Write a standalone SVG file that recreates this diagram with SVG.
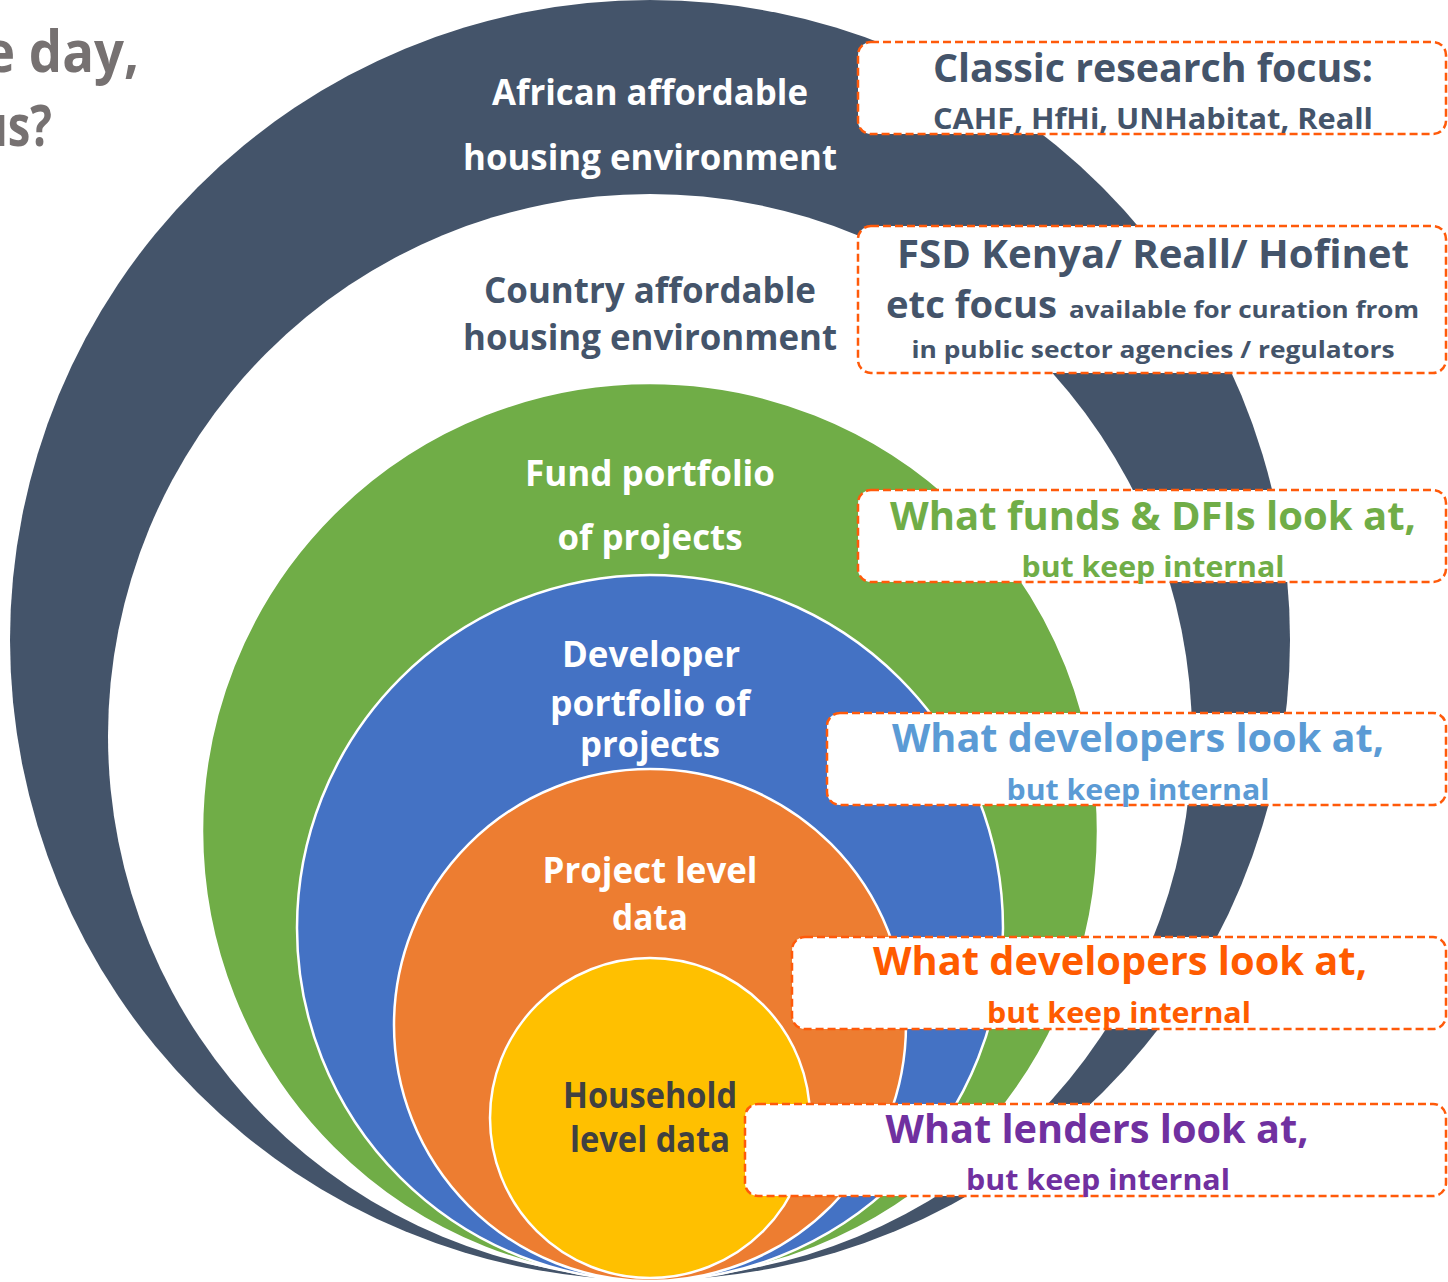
<svg xmlns="http://www.w3.org/2000/svg" width="1448" height="1282" viewBox="0 0 1448 1282">
  <style>
    text { font-family: "Open Sans", "Liberation Sans", sans-serif; font-weight: bold; }
    .ring { stroke: #FFFFFF; stroke-width: 2.5; }
    .lbl { font-size: 36px; text-anchor: middle; }
    .w { fill: #FFFFFF; }
    .slate { fill: #44546A; }
    .box { fill: #FFFFFF; stroke: #FF5A0A; stroke-width: 2.5; stroke-dasharray: 8 4; }
    .big { font-size: 40px; text-anchor: middle; }
    .sub { font-size: 28px; text-anchor: middle; }
    .title { font-size: 58px; fill: #767171; }
  </style>

  <rect width="1448" height="1282" fill="#FFFFFF"/>

  <!-- heading fragment running off the left edge -->
  <g id="heading">
    <text class="title" x="-16" y="72" textLength="155" lengthAdjust="spacingAndGlyphs">e day,</text>
    <text class="title" x="-22" y="146" textLength="74" lengthAdjust="spacingAndGlyphs">us?</text>
  </g>

  <!-- nested rings, all touching at the bottom -->
  <g id="ring-africa">
    <circle cx="650" cy="640" r="640" fill="#44546A"/>
    <text class="lbl w" x="650" y="105" textLength="316" lengthAdjust="spacingAndGlyphs">African affordable</text>
    <text class="lbl w" x="650" y="170" textLength="374" lengthAdjust="spacingAndGlyphs">housing environment</text>
  </g>
  <g id="ring-country">
    <circle cx="650" cy="736" r="542" fill="#FFFFFF"/>
    <text class="lbl slate" x="650" y="303" textLength="332" lengthAdjust="spacingAndGlyphs">Country affordable</text>
    <text class="lbl slate" x="650" y="350" textLength="374" lengthAdjust="spacingAndGlyphs">housing environment</text>
  </g>
  <g id="ring-fund">
    <circle class="ring" cx="650" cy="831" r="448" fill="#70AD47"/>
    <text class="lbl w" x="650" y="486" textLength="250" lengthAdjust="spacingAndGlyphs">Fund portfolio</text>
    <text class="lbl w" x="650" y="550" textLength="185" lengthAdjust="spacingAndGlyphs">of projects</text>
  </g>
  <g id="ring-developer">
    <circle class="ring" cx="650" cy="928" r="353" fill="#4472C4"/>
    <text class="lbl w" x="651" y="667" textLength="178" lengthAdjust="spacingAndGlyphs">Developer</text>
    <text class="lbl w" x="650" y="716" textLength="200" lengthAdjust="spacingAndGlyphs">portfolio of</text>
    <text class="lbl w" x="650" y="757" textLength="140" lengthAdjust="spacingAndGlyphs">projects</text>
  </g>
  <g id="ring-project">
    <circle class="ring" cx="650" cy="1025" r="256" fill="#ED7D31"/>
    <text class="lbl w" x="650" y="883" textLength="215" lengthAdjust="spacingAndGlyphs">Project level</text>
    <text class="lbl w" x="650" y="930" textLength="76" lengthAdjust="spacingAndGlyphs">data</text>
  </g>
  <g id="ring-household">
    <circle class="ring" cx="650" cy="1118" r="160" fill="#FFC000"/>
    <text class="lbl" x="650" y="1108" fill="#404040" textLength="174" lengthAdjust="spacingAndGlyphs">Household</text>
    <text class="lbl" x="650" y="1152" fill="#404040" textLength="160" lengthAdjust="spacingAndGlyphs">level data</text>
  </g>

  <!-- dashed callouts on the right -->
  <g id="callout-classic">
    <rect class="box" x="858" y="42" width="588" height="92" rx="13"/>
    <text class="big slate" x="1153" y="82" textLength="440" lengthAdjust="spacingAndGlyphs">Classic research focus:</text>
    <text class="sub slate" x="1153" y="129" textLength="440" lengthAdjust="spacingAndGlyphs">CAHF, HfHi, UNHabitat, Reall</text>
  </g>
  <g id="callout-country">
    <rect class="box" x="858" y="226" width="588" height="147" rx="13"/>
    <text class="big slate" x="1153" y="268" textLength="512" lengthAdjust="spacingAndGlyphs">FSD Kenya/ Reall/ Hofinet</text>
    <text class="slate" x="886" y="318" font-size="38" textLength="171" lengthAdjust="spacingAndGlyphs">etc focus</text>
    <text class="slate" x="1069" y="318" font-size="24" textLength="350" lengthAdjust="spacingAndGlyphs">available for curation from</text>
    <text class="slate" x="1153" y="358" font-size="24" text-anchor="middle" textLength="483" lengthAdjust="spacingAndGlyphs">in public sector agencies / regulators</text>
  </g>
  <g id="callout-funds">
    <rect class="box" x="858" y="490" width="588" height="92" rx="13"/>
    <text class="big" x="1153" y="530" fill="#70AD47" textLength="526" lengthAdjust="spacingAndGlyphs">What funds &amp; DFIs look at,</text>
    <text class="sub" x="1153" y="577" fill="#70AD47" textLength="263" lengthAdjust="spacingAndGlyphs">but keep internal</text>
  </g>
  <g id="callout-developers">
    <rect class="box" x="827" y="713" width="619" height="92" rx="13"/>
    <text class="big" x="1138" y="752" fill="#5B9BD5" textLength="492" lengthAdjust="spacingAndGlyphs">What developers look at,</text>
    <text class="sub" x="1138" y="800" fill="#5B9BD5" textLength="263" lengthAdjust="spacingAndGlyphs">but keep internal</text>
  </g>
  <g id="callout-projects">
    <rect class="box" x="792" y="937" width="654" height="92" rx="13"/>
    <text class="big" x="1120" y="975" fill="#FF5B00" textLength="494" lengthAdjust="spacingAndGlyphs">What developers look at,</text>
    <text class="sub" x="1119" y="1023" fill="#FF5B00" textLength="264" lengthAdjust="spacingAndGlyphs">but keep internal</text>
  </g>
  <g id="callout-lenders">
    <rect class="box" x="745" y="1104" width="701" height="92" rx="13"/>
    <text class="big" x="1097" y="1143" fill="#7030A0" textLength="423" lengthAdjust="spacingAndGlyphs">What lenders look at,</text>
    <text class="sub" x="1098" y="1190" fill="#7030A0" textLength="264" lengthAdjust="spacingAndGlyphs">but keep internal</text>
  </g>
</svg>
